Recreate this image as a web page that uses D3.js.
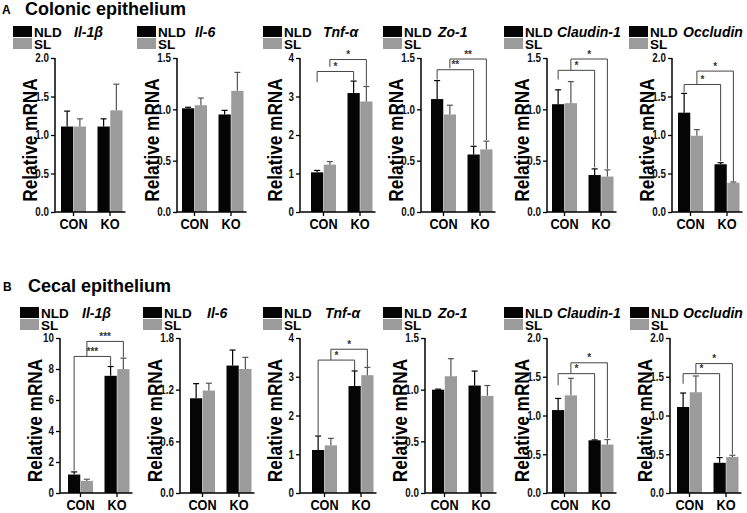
<!DOCTYPE html>
<html>
<head>
<meta charset="utf-8">
<script src="https://cdn.jsdelivr.net/npm/d3@7"></script>
<style>
  body { margin: 0; background: #fff; }
  svg { display: block; font-family: "Liberation Sans", Arial, sans-serif; }
  .narrow { font-family: "Liberation Sans", Arial, sans-serif; font-weight: bold; }
</style>
</head>
<body>
<svg id="chartSVG" width="747" height="513"></svg>
<script>
/* ---------- Data ---------- */
const groups = ["CON", "KO"];
const seriesNames = ["NLD", "SL"];
const genes = ["Il-1β", "Il-6", "Tnf-α", "Zo-1", "Claudin-1", "Occludin"];

// colonic epithelium, [CON, KO] per gene
const colonNLD = [[1.11, 1.11], [1.01, 0.95], [1.03, 3.09], [1.10, 0.56], [1.05, 0.36], [1.29, 0.62]];
const colonNLDErr = [[0.20, 0.10], [0.01, 0.04], [0.05, 0.31], [0.18, 0.08], [0.14, 0.06], [0.25, 0.02]];
const colonSL = [[1.11, 1.32], [1.04, 1.18], [1.23, 2.87], [0.95, 0.61], [1.06, 0.345], [0.99, 0.38]];
const colonSLErr = [[0.10, 0.34], [0.07, 0.18], [0.08, 0.39], [0.09, 0.08], [0.21, 0.065], [0.08, 0.01]];
const colonYMax = [2, 1.5, 4, 1.5, 1.5, 2];
const colonTicks = [[0, 0.5, 1, 1.5, 2], [0, 0.5, 1, 1.5], [0, 1, 2, 3, 4], [0, 0.5, 1, 1.5], [0, 0.5, 1, 1.5], [0, 0.5, 1, 1.5, 2]];
// significance: [series, bracket level, left leg end, right leg end, label]
const colonSig = [
    [], [],
    [[0, 3.65, 3.37, 3.42, "*"], [1, 3.96, 3.77, 3.28, "*"]],
    [[0, 1.386, 1.29, 0.65, "**"], [1, 1.49, 1.40, 0.70, "**"]],
    [[0, 1.38, 1.29, 0.435, "*"], [1, 1.49, 1.38, 0.42, "*"]],
    [[0, 1.656, 1.557, 0.66, "*"], [1, 1.83, 1.66, 0.40, "*"]]
];

// cecal epithelium
const cecalNLD = [[1.19, 7.56], [1.10, 1.48], [1.11, 2.76], [1.00, 1.04], [1.07, 0.68], [1.11, 0.39]];
const cecalNLDErr = [[0.17, 0.60], [0.17, 0.18], [0.36, 0.39], [0.005, 0.14], [0.15, 0.005], [0.18, 0.067]];
const cecalSL = [[0.78, 7.99], [1.19, 1.44], [1.23, 3.04], [1.13, 0.94], [1.26, 0.625], [1.30, 0.465]];
const cecalSLErr = [[0.11, 0.71], [0.085, 0.135], [0.18, 0.20], [0.17, 0.10], [0.22, 0.065], [0.21, 0.022]];
const cecalYMax = [10, 1.8, 4, 1.5, 2, 2];
const cecalTicks = [[0, 2, 4, 6, 8, 10], [0, 0.6, 1.2, 1.8], [0, 1, 2, 3, 4], [0, 0.5, 1, 1.5], [0, 0.5, 1, 1.5, 2], [0, 0.5, 1, 1.5, 2]];
const cecalSig = [
    [[0, 8.81, 1.45, 8.2, "***"], [1, 9.78, 8.81, 8.75, "***"]],
    [],
    [[0, 3.43, 1.5, 3.15, "*"], [1, 3.71, 3.43, 3.25, "*"]],
    [],
    [[0, 1.54, 1.39, 0.69, "*"], [1, 1.68, 1.54, 0.71, "*"]],
    [[0, 1.54, 1.41, 0.47, "*"], [1, 1.67, 1.54, 0.50, "*"]]
];

/* ---------- Layout ---------- */
const barColours = ["#050505", "#9b9b9b"];
const errColours = ["#000", "#555"];
// axis texts in the figure are a condensed face, squeeze the regular one
const squeeze = 0.82;
const rows = [
    { letter: "A", title: "Colonic epithelium", titleY: 15, legendY: 26, geneY: 37, top: 58, bottom: 212,
      axisX: [55, 177, 300, 421, 547, 672], barOff: [6, 5, 11, 10, 5, 6],
      legendX: [13, 137, 263, 383, 504, 629], geneX: [74, 195, 323, 438, 557, 683],
      nld: colonNLD, nldErr: colonNLDErr, sl: colonSL, slErr: colonSLErr,
      yMax: colonYMax, ticks: colonTicks, sig: colonSig },
    { letter: "B", title: "Cecal epithelium", titleY: 292, legendY: 307, geneY: 318, top: 338, bottom: 493,
      axisX: [60, 180, 300, 425, 547, 670], barOff: [8, 10, 12, 7, 5, 7],
      legendX: [20, 143, 263, 383, 504, 630], geneX: [82, 207, 325, 438, 557, 683],
      nld: cecalNLD, nldErr: cecalNLDErr, sl: cecalSL, slErr: cecalSLErr,
      yMax: cecalYMax, ticks: cecalTicks, sig: cecalSig }
];

var svg = d3.select("#chartSVG");

var drawPanel = function(row, p) {
    var g = svg.append("g");
    var ax = row.axisX[p];
    var x0 = ax + row.barOff[p];

    var xGroup = d3.scaleBand().domain(groups).range([x0, x0 + 61.5]).paddingInner(0.315).paddingOuter(0);
    var xSeries = d3.scaleBand().domain(seriesNames).range([0, xGroup.bandwidth()]).paddingInner(0.04);
    var y = d3.scaleLinear().domain([0, row.yMax[p]]).range([row.bottom, row.top]);

    var vals = [row.nld[p], row.sl[p]];
    var errs = [row.nldErr[p], row.slErr[p]];
    var cx = (gi, si) => xGroup(groups[gi]) + xSeries(seriesNames[si]) + xSeries.bandwidth() / 2;

    /* ---------- bars + error bars ---------- */
    seriesNames.forEach((s, si) => {
        groups.forEach((grp, gi) => {
            var v = vals[si][gi], e = errs[si][gi];
            g.append("rect")
                .attr("x", xGroup(grp) + xSeries(s))
                .attr("y", y(v))
                .attr("width", xSeries.bandwidth())
                .attr("height", y(0) - y(v))
                .attr("fill", barColours[si]);
            var c = cx(gi, si);
            g.append("line")
                .attr("x1", c).attr("x2", c)
                .attr("y1", y(v)).attr("y2", y(v + e))
                .attr("stroke", errColours[si]).attr("stroke-width", 1.2);
            g.append("line")
                .attr("x1", c - 3).attr("x2", c + 3)
                .attr("y1", y(v + e)).attr("y2", y(v + e))
                .attr("stroke", errColours[si]).attr("stroke-width", 1.2);
        });
    });

    /* ---------- significance brackets ---------- */
    row.sig[p].forEach(b => {
        var xa = cx(0, b[0]), xb = cx(1, b[0]);
        g.append("path")
            .attr("d", "M" + xa + "," + y(b[2]) + "V" + y(b[1]) + "H" + xb + "V" + y(b[3]))
            .attr("fill", "none").attr("stroke", "#444").attr("stroke-width", 1);
        g.append("text")
            .text(b[4])
            .attr("x", (xa + xb) / 2).attr("y", y(b[1]) - 1.5)
            .attr("text-anchor", "middle")
            .attr("font-size", 10).attr("font-weight", "bold").attr("fill", "#333");
    });

    /* ---------- axes ---------- */
    var allInt = row.ticks[p].every(t => Number.isInteger(t));
    var yAxis = d3.axisLeft(y).tickValues(row.ticks[p]).tickSize(4).tickPadding(2)
        .tickFormat(d3.format(allInt ? "d" : ".1f"));
    var ya = g.append("g").attr("transform", "translate(" + ax + ",0)").call(yAxis);
    ya.select(".domain").attr("stroke-width", 1.5).attr("d", "M0," + row.bottom + "V" + row.top);
    ya.selectAll(".tick line").attr("stroke-width", 1.3);
    ya.selectAll(".tick text")
        .attr("class", "narrow").attr("font-size", 12).attr("fill", "#111")
        .attr("x", -6 / squeeze)
        .attr("transform", "scale(" + squeeze + ",1)");

    var xAxis = d3.axisBottom(xGroup).tickSize(4).tickSizeOuter(0).tickPadding(2);
    var xa = g.append("g").attr("transform", "translate(0," + row.bottom + ")").call(xAxis);
    xa.select(".domain").attr("stroke-width", 1.5).attr("d", "M" + ax + ",0H" + (x0 + 64.5));
    xa.selectAll(".tick line").attr("stroke-width", 1.3);
    xa.selectAll(".tick text")
        .attr("class", "narrow").attr("font-size", 15.5).attr("fill", "#000")
        .attr("transform", "scale(" + squeeze + ",1)");

    g.append("text")
        .text("Relative mRNA")
        .attr("class", "narrow")
        .attr("font-size", 21)
        .attr("text-anchor", "middle")
        .attr("transform", "translate(" + (ax - 18) + "," + ((row.top + row.bottom) / 2 + 5) + ") rotate(-90) scale(" + squeeze + ",1)");

    /* ---------- legend and gene title ---------- */
    var lx = row.legendX[p];
    seriesNames.forEach((s, si) => {
        g.append("rect")
            .attr("x", lx).attr("y", row.legendY + si * 12)
            .attr("width", 19).attr("height", 11)
            .attr("fill", barColours[si]);
        g.append("text")
            .text(s)
            .attr("x", lx + 21).attr("y", row.legendY + si * 12 + 10.5)
            .attr("font-size", 13.5).attr("font-weight", "bold");
    });
    g.append("text")
        .text(genes[p])
        .attr("x", row.geneX[p]).attr("y", row.geneY)
        .attr("font-size", 14).attr("font-weight", "bold").attr("font-style", "italic");
};

rows.forEach(row => {
    svg.append("text").text(row.letter)
        .attr("x", row.letter === "A" ? 2 : 3).attr("y", row.titleY - 1)
        .attr("font-size", 12).attr("font-weight", "bold");
    svg.append("text").text(row.title)
        .attr("x", row.letter === "A" ? 25 : 28).attr("y", row.titleY)
        .attr("font-size", 18).attr("font-weight", "bold");
    genes.forEach((gene, p) => drawPanel(row, p));
});
</script>
</body>
</html>
